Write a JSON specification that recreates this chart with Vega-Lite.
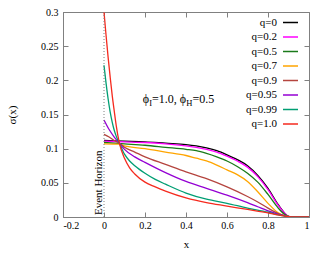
{
"$schema": "https://vega.github.io/schema/vega-lite/v6.json",
"width": 246, "height": 205,
"autosize": "none",
"padding": {"left": 63, "top": 12, "right": 21, "bottom": 37},
"config": {
  "font": "Liberation Serif",
  "view": {"stroke": "#808080", "strokeWidth": 1},
  "axis": {"grid": false, "domainColor": "#808080", "tickColor": "#808080", "tickSize": -5, "labelFont": "Liberation Serif", "labelFontSize": 10, "labelColor": "#000", "titleFont": "Liberation Serif", "titleFontSize": 11, "titleFontWeight": "normal", "titleColor": "#000"},
  "legend": {"orient": "none", "legendX": 219, "legendY": 2, "symbolType": "stroke", "symbolSize": 225, "symbolStrokeWidth": 1.5, "labelAlign": "right", "labelOffset": -22, "labelFontSize": 11, "labelFont": "Liberation Serif", "rowPadding": 0.5, "padding": 0}
},
"layer": [
  {
    "data": {"values": [
      {"q":"q=0","x":0,"y":0.112},{"q":"q=0","x":0.1,"y":0.111},{"q":"q=0","x":0.2,"y":0.110},{"q":"q=0","x":0.3,"y":0.108},{"q":"q=0","x":0.4,"y":0.106},{"q":"q=0","x":0.45,"y":0.104},{"q":"q=0","x":0.5,"y":0.101},{"q":"q=0","x":0.55,"y":0.097},{"q":"q=0","x":0.6,"y":0.091},{"q":"q=0","x":0.65,"y":0.084},{"q":"q=0","x":0.7,"y":0.075},{"q":"q=0","x":0.75,"y":0.061},{"q":"q=0","x":0.8,"y":0.042},{"q":"q=0","x":0.85,"y":0.018},{"q":"q=0","x":0.88,"y":0.006},{"q":"q=0","x":0.9,"y":0.001},{"q":"q=0","x":0.92,"y":0},{"q":"q=0","x":1,"y":0},
      {"q":"q=0.2","x":0,"y":0.111},{"q":"q=0.2","x":0.1,"y":0.110},{"q":"q=0.2","x":0.2,"y":0.109},{"q":"q=0.2","x":0.3,"y":0.107},{"q":"q=0.2","x":0.4,"y":0.104},{"q":"q=0.2","x":0.45,"y":0.102},{"q":"q=0.2","x":0.5,"y":0.099},{"q":"q=0.2","x":0.55,"y":0.095},{"q":"q=0.2","x":0.6,"y":0.089},{"q":"q=0.2","x":0.65,"y":0.082},{"q":"q=0.2","x":0.7,"y":0.073},{"q":"q=0.2","x":0.75,"y":0.059},{"q":"q=0.2","x":0.8,"y":0.040},{"q":"q=0.2","x":0.85,"y":0.017},{"q":"q=0.2","x":0.88,"y":0.006},{"q":"q=0.2","x":0.9,"y":0.001},{"q":"q=0.2","x":0.92,"y":0},{"q":"q=0.2","x":1,"y":0},
      {"q":"q=0.5","x":0,"y":0.109},{"q":"q=0.5","x":0.1,"y":0.107},{"q":"q=0.5","x":0.2,"y":0.105},{"q":"q=0.5","x":0.3,"y":0.102},{"q":"q=0.5","x":0.4,"y":0.099},{"q":"q=0.5","x":0.45,"y":0.097},{"q":"q=0.5","x":0.5,"y":0.093},{"q":"q=0.5","x":0.55,"y":0.088},{"q":"q=0.5","x":0.6,"y":0.082},{"q":"q=0.5","x":0.65,"y":0.074},{"q":"q=0.5","x":0.7,"y":0.064},{"q":"q=0.5","x":0.75,"y":0.051},{"q":"q=0.5","x":0.8,"y":0.033},{"q":"q=0.5","x":0.85,"y":0.013},{"q":"q=0.5","x":0.88,"y":0.004},{"q":"q=0.5","x":0.9,"y":0.001},{"q":"q=0.5","x":0.92,"y":0},{"q":"q=0.5","x":1,"y":0},
      {"q":"q=0.7","x":0,"y":0.107},{"q":"q=0.7","x":0.075,"y":0.1065},{"q":"q=0.7","x":0.1,"y":0.104},{"q":"q=0.7","x":0.2,"y":0.100},{"q":"q=0.7","x":0.3,"y":0.095},{"q":"q=0.7","x":0.4,"y":0.090},{"q":"q=0.7","x":0.45,"y":0.086},{"q":"q=0.7","x":0.5,"y":0.082},{"q":"q=0.7","x":0.55,"y":0.076},{"q":"q=0.7","x":0.6,"y":0.069},{"q":"q=0.7","x":0.65,"y":0.062},{"q":"q=0.7","x":0.7,"y":0.052},{"q":"q=0.7","x":0.75,"y":0.037},{"q":"q=0.7","x":0.8,"y":0.020},{"q":"q=0.7","x":0.85,"y":0.006},{"q":"q=0.7","x":0.88,"y":0.002},{"q":"q=0.7","x":0.9,"y":0.0005},{"q":"q=0.7","x":0.92,"y":0},{"q":"q=0.7","x":1,"y":0},
      {"q":"q=0.9","x":0,"y":0.121},{"q":"q=0.9","x":0.025,"y":0.117},{"q":"q=0.9","x":0.05,"y":0.112},{"q":"q=0.9","x":0.075,"y":0.108},{"q":"q=0.9","x":0.1,"y":0.102},{"q":"q=0.9","x":0.15,"y":0.095},{"q":"q=0.9","x":0.2,"y":0.088},{"q":"q=0.9","x":0.3,"y":0.077},{"q":"q=0.9","x":0.4,"y":0.066},{"q":"q=0.9","x":0.5,"y":0.056},{"q":"q=0.9","x":0.6,"y":0.044},{"q":"q=0.9","x":0.7,"y":0.030},{"q":"q=0.9","x":0.75,"y":0.022},{"q":"q=0.9","x":0.8,"y":0.013},{"q":"q=0.9","x":0.85,"y":0.005},{"q":"q=0.9","x":0.88,"y":0.002},{"q":"q=0.9","x":0.9,"y":0.0005},{"q":"q=0.9","x":0.92,"y":0},{"q":"q=0.9","x":1,"y":0},
      {"q":"q=0.95","x":0,"y":0.142},{"q":"q=0.95","x":0.025,"y":0.128},{"q":"q=0.95","x":0.05,"y":0.117},{"q":"q=0.95","x":0.075,"y":0.108},{"q":"q=0.95","x":0.1,"y":0.099},{"q":"q=0.95","x":0.15,"y":0.088},{"q":"q=0.95","x":0.2,"y":0.080},{"q":"q=0.95","x":0.3,"y":0.065},{"q":"q=0.95","x":0.4,"y":0.052},{"q":"q=0.95","x":0.5,"y":0.042},{"q":"q=0.95","x":0.6,"y":0.032},{"q":"q=0.95","x":0.7,"y":0.021},{"q":"q=0.95","x":0.75,"y":0.015},{"q":"q=0.95","x":0.8,"y":0.009},{"q":"q=0.95","x":0.85,"y":0.004},{"q":"q=0.95","x":0.88,"y":0.002},{"q":"q=0.95","x":0.9,"y":0.0005},{"q":"q=0.95","x":0.92,"y":0},{"q":"q=0.95","x":1,"y":0},
      {"q":"q=0.99","x":0,"y":0.222},{"q":"q=0.99","x":0.01,"y":0.196},{"q":"q=0.99","x":0.02,"y":0.173},{"q":"q=0.99","x":0.03,"y":0.154},{"q":"q=0.99","x":0.04,"y":0.139},{"q":"q=0.99","x":0.05,"y":0.127},{"q":"q=0.99","x":0.06,"y":0.118},{"q":"q=0.99","x":0.075,"y":0.108},{"q":"q=0.99","x":0.1,"y":0.092},{"q":"q=0.99","x":0.125,"y":0.082},{"q":"q=0.99","x":0.15,"y":0.075},{"q":"q=0.99","x":0.2,"y":0.064},{"q":"q=0.99","x":0.25,"y":0.055},{"q":"q=0.99","x":0.3,"y":0.048},{"q":"q=0.99","x":0.4,"y":0.035},{"q":"q=0.99","x":0.5,"y":0.026},{"q":"q=0.99","x":0.6,"y":0.020},{"q":"q=0.99","x":0.7,"y":0.013},{"q":"q=0.99","x":0.8,"y":0.007},{"q":"q=0.99","x":0.85,"y":0.003},{"q":"q=0.99","x":0.9,"y":0.0005},{"q":"q=0.99","x":0.92,"y":0},{"q":"q=0.99","x":1,"y":0},
      {"q":"q=1.0","x":0,"y":0.300},{"q":"q=1.0","x":0.01,"y":0.266},{"q":"q=1.0","x":0.02,"y":0.234},{"q":"q=1.0","x":0.03,"y":0.205},{"q":"q=1.0","x":0.04,"y":0.178},{"q":"q=1.0","x":0.05,"y":0.155},{"q":"q=1.0","x":0.06,"y":0.133},{"q":"q=1.0","x":0.075,"y":0.108},{"q":"q=1.0","x":0.1,"y":0.086},{"q":"q=1.0","x":0.125,"y":0.072},{"q":"q=1.0","x":0.15,"y":0.063},{"q":"q=1.0","x":0.2,"y":0.051},{"q":"q=1.0","x":0.25,"y":0.044},{"q":"q=1.0","x":0.3,"y":0.038},{"q":"q=1.0","x":0.4,"y":0.028},{"q":"q=1.0","x":0.5,"y":0.021},{"q":"q=1.0","x":0.6,"y":0.016},{"q":"q=1.0","x":0.7,"y":0.011},{"q":"q=1.0","x":0.8,"y":0.006},{"q":"q=1.0","x":0.85,"y":0.003},{"q":"q=1.0","x":0.9,"y":0.0005},{"q":"q=1.0","x":0.92,"y":0},{"q":"q=1.0","x":1,"y":0}
    ]},
    "mark": {"type": "line", "strokeWidth": 1.3, "interpolate": "monotone", "clip": true},
    "encoding": {
      "x": {"field": "x", "type": "quantitative", "scale": {"domain": [-0.2, 1], "nice": false, "zero": false},
        "axis": {"orient": "bottom", "values": [-0.2, 0, 0.2, 0.4, 0.6, 0.8, 1], "labelExpr": "replace(format(datum.value, '.1~f'), '\u2212', '-')", "title": "x", "labelPadding": 8, "titlePadding": 8}},
      "y": {"field": "y", "type": "quantitative", "scale": {"domain": [0, 0.3], "nice": false},
        "axis": {"orient": "left", "values": [0, 0.05, 0.1, 0.15, 0.2, 0.25, 0.3], "format": ".2~f", "title": "σ(x)", "labelPadding": 10, "titlePadding": 23}},
      "color": {"field": "q", "type": "nominal", "title": null,
        "scale": {"domain": ["q=0", "q=0.2", "q=0.5", "q=0.7", "q=0.9", "q=0.95", "q=0.99", "q=1.0"],
                  "range": ["#000000", "#ff00ff", "#1a7a1a", "#ffa500", "#b5453f", "#9400d3", "#009e73", "#f52a1e"]},
        "sort": null}
    }
  },
  {
    "data": {"values": [{"xv": 0, "ya": 0, "yb": 0.3}]},
    "mark": {"type": "rule", "color": "#808080", "strokeDash": [1, 2], "strokeWidth": 1},
    "encoding": {
      "x": {"field": "xv", "type": "quantitative", "scale": {"domain": [-0.2, 1], "nice": false, "zero": false},
        "axis": {"orient": "top", "values": [-0.2, 0, 0.2, 0.4, 0.6, 0.8, 1], "labels": false, "title": null, "domain": false}},
      "y": {"field": "ya", "type": "quantitative", "scale": {"domain": [0, 0.3], "nice": false},
        "axis": {"orient": "right", "values": [0, 0.05, 0.1, 0.15, 0.2, 0.25, 0.3], "labels": false, "title": null, "domain": false}},
      "y2": {"field": "yb"}
    }
  },
  {
    "data": {"values": [{"xv": 0, "yv": 0, "t": "Event Horizon"}]},
    "mark": {"type": "text", "angle": 270, "align": "left", "baseline": "alphabetic", "dx": 2, "dy": -2, "fontSize": 11, "font": "Liberation Serif", "color": "#000"},
    "encoding": {
      "x": {"field": "xv", "type": "quantitative", "axis": null},
      "y": {"field": "yv", "type": "quantitative", "axis": null},
      "text": {"field": "t"}
    }
  },
  {
    "data": {"values": [{"xv": 0.1888, "yv": 0.1727, "t": "ϕ"}, {"xv": 0.2341, "yv": 0.1727, "t": "=1.0, ϕ"}, {"xv": 0.4317, "yv": 0.1727, "t": "=0.5"}]},
    "mark": {"type": "text", "align": "left", "baseline": "middle", "fontSize": 12, "font": "Liberation Serif", "color": "#000"},
    "encoding": {
      "x": {"field": "xv", "type": "quantitative", "axis": null},
      "y": {"field": "yv", "type": "quantitative", "axis": null},
      "text": {"field": "t"}
    }
  },
  {
    "data": {"values": [{"xv": 0.2205, "yv": 0.1668, "t": "I"}, {"xv": 0.401, "yv": 0.1668, "t": "H"}]},
    "mark": {"type": "text", "align": "left", "baseline": "middle", "fontSize": 8.5, "font": "Liberation Serif", "color": "#000"},
    "encoding": {
      "x": {"field": "xv", "type": "quantitative", "axis": null},
      "y": {"field": "yv", "type": "quantitative", "axis": null},
      "text": {"field": "t"}
    }
  }
],
"resolve": {"axis": {"x": "independent", "y": "independent"}}
}
